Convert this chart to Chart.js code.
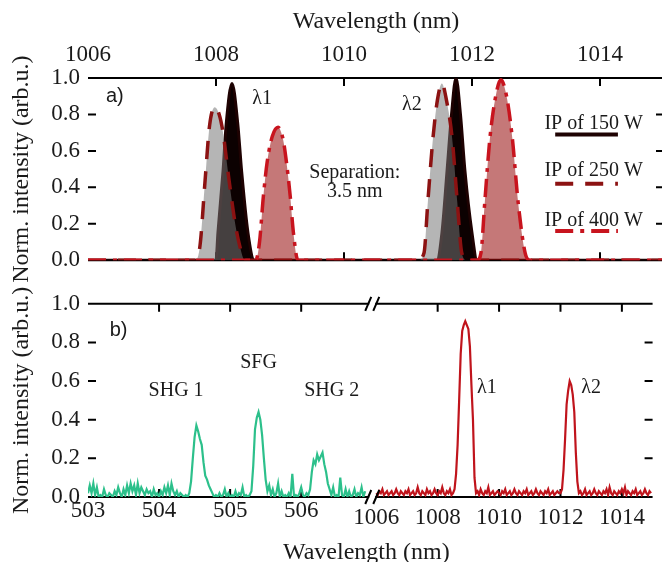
<!DOCTYPE html>
<html>
<head>
  <meta charset="utf-8">
  <title>Fundamental and SHG spectra</title>
  <script src="https://cdn.jsdelivr.net/npm/chart.js"></script>
  <style>
    html, body {
      margin: 0;
      padding: 0;
      background: #fff;
      overflow: hidden;
    }
    .panel { position: absolute; left: 0; }
    #topPanel { top: 0; }
    #bottomPanel { top: 282px; }
  </style>
</head>
<body>
  <!-- a) fundamental spectra at three pump powers -->
  <div class="panel" id="topPanel"><canvas id="fundChart" width="666" height="282"></canvas></div>
  <!-- b) SHG / SFG and fundamental, broken wavelength axis -->
  <div class="panel" id="bottomPanel"><canvas id="shgChart" width="666" height="280"></canvas></div>

  <script>
    // ---- data: panel a) ----
    const wlTicks = [1006, 1008, 1010, 1012, 1014];
    const yTicks = [0, 0.2, 0.4, 0.6, 0.8, 1.0];

    const ip150X = [1006, 1008.0, 1008.03, 1008.11, 1008.16, 1008.25, 1008.34, 1008.4, 1008.5, 1008.6,
                    1011.45, 1011.53, 1011.61, 1011.68, 1011.75, 1011.82, 1011.89, 1012.0, 1012.08, 1015];
    const ip150Y = [0, 0, 0.15, 0.49, 0.75, 0.97, 0.75, 0.49, 0.15, 0,
                    0, 0.15, 0.49, 0.8, 1.0, 0.8, 0.49, 0.15, 0, 0];

    const ip250X = [1006, 1007.68, 1007.75, 1007.83, 1007.9, 1007.98, 1008.05, 1008.11, 1008.2, 1008.3, 1008.37, 1008.45,
                    1011.15, 1011.25, 1011.31, 1011.39, 1011.46, 1011.53, 1011.6, 1011.69, 1011.77, 1011.84, 1011.92, 1015];
    const ip250Y = [0, 0, 0.08, 0.44, 0.74, 0.84, 0.8, 0.7, 0.45, 0.2, 0.08, 0,
                    0, 0.04, 0.32, 0.67, 0.88, 0.97, 0.88, 0.67, 0.32, 0.04, 0, 0];

    const ip400X = [1006, 1008.62, 1008.68, 1008.74, 1008.8, 1008.88, 1008.97, 1009.05, 1009.1, 1009.16, 1009.21, 1009.28,
                    1012.08, 1012.14, 1012.2, 1012.28, 1012.37, 1012.45, 1012.54, 1012.63, 1012.72, 1012.83, 1012.9, 1015];
    const ip400Y = [0, 0, 0.1, 0.35, 0.54, 0.68, 0.73, 0.66, 0.54, 0.35, 0.15, 0,
                    0, 0.04, 0.32, 0.67, 0.9, 0.99, 0.9, 0.67, 0.32, 0.04, 0, 0];

    // ---- data: panel b) ----
    const shgTicks = [503, 504, 505, 506];
    const fundTicks = [1006, 1008, 1010, 1012, 1014];

    // green trace, sampled every 0.025 nm from 503 nm
    const shgStart = 503.0;
    const shgStep = 0.025;
    const shgY = [
      0.02, 0.06, 0.02, 0.07, 0.01, 0.05, 0.00, 0.01, 0.00, 0.04, 0.01, 0.00, 0.02, 0.01, 0.00, 0.03, 0.01, 0.05, 0.02, 0.00,
      0.04, 0.01, 0.06, 0.02, 0.07, 0.03, 0.06, 0.01, 0.07, 0.02, 0.05, 0.03, 0.01, 0.04, 0.02, 0.03, 0.00, 0.04, 0.01, 0.02,
      0.00, 0.03, 0.01, 0.05, 0.02, 0.06, 0.01, 0.07, 0.03, 0.01, 0.03, 0.00, 0.02, 0.01, 0.00, 0.01, 0.00, 0.02, 0.08, 0.20,
      0.31, 0.37, 0.34, 0.30, 0.27, 0.18, 0.11, 0.09, 0.06, 0.04, 0.02, 0.00, 0.01, 0.00, 0.02, 0.00, 0.01, 0.04, 0.00, 0.02,
      0.00, 0.01, 0.00, 0.03, 0.00, 0.02, 0.01, 0.05, 0.00, 0.01, 0.00, 0.01, 0.03, 0.16, 0.35, 0.41, 0.44, 0.40, 0.32, 0.20,
      0.09, 0.03, 0.06, 0.01, 0.04, 0.00, 0.02, 0.07, 0.00, 0.03, 0.00, 0.01, 0.00, 0.02, 0.00, 0.12, 0.00, 0.01, 0.00, 0.02,
      0.05, 0.01, 0.00, 0.02, 0.01, 0.04, 0.13, 0.19, 0.17, 0.22, 0.19, 0.21, 0.23, 0.17, 0.13, 0.07, 0.04, 0.01, 0.05, 0.00,
      0.01, 0.00, 0.10, 0.01, 0.00, 0.04, 0.00, 0.03, 0.00, 0.01, 0.04, 0.00, 0.02, 0.01, 0.05, 0.00, 0.03
    ];

    // red trace, sampled every 0.05 nm from 1006 nm
    const fundStart = 1006.0;
    const fundStep = 0.05;
    const fundY = [
      0.02, 0.01, 0.03, 0.02, 0.04, 0.01, 0.02, 0.03, 0.01, 0.02, 0.03, 0.01, 0.02, 0.04, 0.02, 0.01, 0.03, 0.02, 0.01, 0.03,
      0.02, 0.04, 0.01, 0.02, 0.03, 0.01, 0.02, 0.05, 0.02, 0.01, 0.03, 0.02, 0.01, 0.04, 0.02, 0.03, 0.01, 0.02, 0.04, 0.02,
      0.01, 0.03, 0.02, 0.05, 0.02, 0.01, 0.03, 0.02, 0.04, 0.01, 0.02, 0.04, 0.12, 0.27, 0.50, 0.74, 0.86, 0.89, 0.91, 0.89,
      0.87, 0.78, 0.58, 0.40, 0.10, 0.02, 0.03, 0.01, 0.04, 0.02, 0.01, 0.03, 0.02, 0.05, 0.01, 0.02, 0.03, 0.01, 0.02, 0.03,
      0.02, 0.01, 0.03, 0.02, 0.04, 0.01, 0.02, 0.03, 0.01, 0.02, 0.04, 0.02, 0.01, 0.03, 0.02, 0.01, 0.03, 0.02, 0.04, 0.01,
      0.02, 0.03, 0.01, 0.02, 0.04, 0.02, 0.01, 0.03, 0.02, 0.01, 0.03, 0.02, 0.04, 0.01, 0.02, 0.03, 0.01, 0.02, 0.03, 0.02,
      0.02, 0.04, 0.14, 0.30, 0.48, 0.55, 0.60, 0.58, 0.53, 0.44, 0.23, 0.08, 0.02, 0.03, 0.01, 0.02, 0.04, 0.01, 0.02, 0.03,
      0.01, 0.02, 0.04, 0.02, 0.01, 0.03, 0.02, 0.01, 0.03, 0.02, 0.04, 0.01, 0.05, 0.02, 0.01, 0.03, 0.02, 0.01, 0.03, 0.02,
      0.04, 0.02, 0.05, 0.01, 0.03, 0.02, 0.01, 0.03, 0.02, 0.04, 0.01, 0.02, 0.03, 0.01, 0.02, 0.04, 0.02, 0.01, 0.03, 0.02
    ];

    const serif = "'Liberation Serif', 'Times New Roman', serif";
    const sans = "'Liberation Sans', Arial, sans-serif";
    Chart.defaults.font.family = serif;
    Chart.defaults.color = '#1a1a1a';
    Chart.defaults.animation = false;

    const TICK = 8;
    const tickFont = { family: serif, size: 23 };
    const titleFont = { family: serif, size: 24 };

    const pairs = (xs, ys) => xs.map((x, i) => ({ x: x, y: ys[i] }));
    const sampled = (start, step, ys) => ys.map((y, i) => ({ x: +(start + i * step).toFixed(3), y: y }));
    const setTicks = list => axis => { axis.ticks = list.map(v => ({ value: v })); };

    // frame: top/bottom lines, inward ticks, axis break
    const framePlugin = {
      id: 'frame',
      beforeDatasetsDraw(chart) {
        const { ctx, chartArea: a, scales } = chart;
        ctx.save();
        ctx.strokeStyle = '#000';
        ctx.lineWidth = 2;
        ctx.beginPath();
        ctx.moveTo(a.left, a.top); ctx.lineTo(a.right, a.top);
        ctx.moveTo(a.left, a.bottom); ctx.lineTo(a.right, a.bottom);
        Object.values(scales).filter(s => s.axis === 'x').forEach(s => {
          s.ticks.forEach(t => {
            const px = s.getPixelForValue(t.value);
            if (px - s.left < 6 || s.right - px < 6) return;
            ctx.moveTo(px, a.top); ctx.lineTo(px, a.top + TICK);
            ctx.moveTo(px, a.bottom); ctx.lineTo(px, a.bottom - TICK);
          });
        });
        const y = scales.y;
        y.ticks.forEach(t => {
          if (t.value <= 0 || t.value >= 1) return;
          const py = y.getPixelForValue(t.value);
          ctx.moveTo(a.left, py); ctx.lineTo(a.left + TICK, py);
          ctx.moveTo(a.right - TICK, py); ctx.lineTo(a.right, py);
        });
        ctx.stroke();
        ctx.restore();
      },
      afterDatasetsDraw(chart, args, opts) {
        if (!opts.breakAfter) return;
        const { ctx, chartArea: a, scales } = chart;
        const bx = scales[opts.breakAfter].right;
        ctx.save();
        [a.top, a.bottom].forEach(by => {
          ctx.fillStyle = '#fff';
          ctx.fillRect(bx - 3, by - 4, 6, 8);
          ctx.strokeStyle = '#000';
          ctx.lineWidth = 2;
          ctx.beginPath();
          ctx.moveTo(bx - 7, by + 7); ctx.lineTo(bx - 1, by - 7);
          ctx.moveTo(bx + 1, by + 7); ctx.lineTo(bx + 7, by - 7);
          ctx.stroke();
        });
        ctx.restore();
      }
    };

    // text notes placed in data coordinates, plus the line-sample legend
    const notesPlugin = {
      id: 'notes',
      afterDatasetsDraw(chart, args, opts) {
        const { ctx, scales } = chart;
        ctx.save();
        ctx.textAlign = 'center';
        ctx.textBaseline = 'middle';
        ctx.fillStyle = '#1a1a1a';
        (opts.items || []).forEach(n => {
          const xs = scales[n.axis || 'x'];
          ctx.font = n.font || ('20px ' + serif);
          ctx.fillText(n.text, xs.getPixelForValue(n.x), scales.y.getPixelForValue(n.y));
        });
        (opts.legend || []).forEach(l => {
          const ds = chart.data.datasets[l.dataset];
          const xs = scales.x;
          ctx.font = '20px ' + serif;
          ctx.fillStyle = '#1a1a1a';
          ctx.fillText(ds.label, xs.getPixelForValue(l.x), scales.y.getPixelForValue(l.y));
          ctx.strokeStyle = ds.borderColor;
          ctx.lineWidth = 4;
          ctx.setLineDash(ds.borderDash || []);
          ctx.beginPath();
          ctx.moveTo(xs.getPixelForValue(l.x0), scales.y.getPixelForValue(l.yl));
          ctx.lineTo(xs.getPixelForValue(l.x1), scales.y.getPixelForValue(l.yl));
          ctx.stroke();
          ctx.setLineDash([]);
        });
        if (opts.bottomTitle) {
          ctx.font = '24px ' + serif;
          ctx.fillStyle = '#1a1a1a';
          ctx.fillText(opts.bottomTitle, (chart.chartArea.left + chart.chartArea.right) / 2 - 4, chart.height - 9);
        }
        ctx.restore();
      }
    };

    function yAxis() {
      return {
        min: 0,
        max: 1,
        afterBuildTicks: setTicks(yTicks),
        afterFit: s => { s.width = 88; },
        grid: { display: false, drawTicks: false },
        border: { display: false },
        ticks: { font: tickFont, padding: 8, callback: v => v.toFixed(1) },
        title: { display: true, text: 'Norm. intensity (arb.u.)', font: titleFont, padding: { top: 7, bottom: 0 } }
      };
    }

    // ---- panel a) ----
    new Chart(document.getElementById('fundChart').getContext('2d'), {
      type: 'line',
      data: {
        datasets: [
          {
            label: 'IP of 150 W',
            data: pairs(ip150X, ip150Y),
            borderColor: '#1e0202',
            backgroundColor: '#0c0101',
            borderWidth: 3,
            fill: 'origin',
            order: 3
          },
          {
            label: 'IP of 250 W',
            data: pairs(ip250X, ip250Y),
            borderColor: '#8c1212',
            backgroundColor: 'rgba(118, 118, 118, 0.54)',
            borderWidth: 3.5,
            borderDash: [18, 12],
            fill: 'origin',
            order: 2
          },
          {
            label: 'IP of 400 W',
            data: pairs(ip400X, ip400Y),
            borderColor: '#c8141e',
            backgroundColor: 'rgba(150, 10, 10, 0.55)',
            borderWidth: 3.5,
            borderDash: [18, 7, 4, 7],
            fill: 'origin',
            order: 1
          }
        ]
      },
      options: {
        responsive: false,
        layout: { padding: { top: 0, right: 2, bottom: 12, left: 0 } },
        elements: { point: { radius: 0 }, line: { cubicInterpolationMode: 'monotone' } },
        scales: {
          x: {
            type: 'linear',
            position: 'top',
            min: 1006,
            max: 1015,
            afterBuildTicks: setTicks(wlTicks),
            afterFit: s => { s.height = 78; },
            grid: { display: false, drawTicks: false },
            border: { display: false },
            ticks: { font: tickFont, padding: 9, maxRotation: 0, autoSkip: false, callback: v => String(v) },
            title: { display: true, text: 'Wavelength (nm)', font: titleFont, padding: { top: 7, bottom: 0 } }
          },
          y: yAxis()
        },
        plugins: {
          legend: { display: false },
          tooltip: { enabled: false },
          notes: {
            items: [
              { text: 'a)', x: 1006.42, y: 0.9, font: '20px ' + sans },
              { text: '\u03bb1', x: 1008.72, y: 0.885 },
              { text: '\u03bb2', x: 1011.06, y: 0.855 },
              { text: 'Separation:', x: 1010.17, y: 0.48 },
              { text: '3.5 nm', x: 1010.17, y: 0.375 }
            ],
            legend: [
              { dataset: 0, x: 1013.9, y: 0.75, x0: 1013.3, x1: 1014.28, yl: 0.69 },
              { dataset: 1, x: 1013.9, y: 0.49, x0: 1013.3, x1: 1014.28, yl: 0.42 },
              { dataset: 2, x: 1013.9, y: 0.215, x0: 1013.3, x1: 1014.28, yl: 0.16 }
            ]
          }
        }
      },
      plugins: [framePlugin, notesPlugin]
    });

    // ---- panel b) ----
    new Chart(document.getElementById('shgChart').getContext('2d'), {
      type: 'line',
      data: {
        datasets: [
          {
            label: 'SHG / SFG',
            data: sampled(shgStart, shgStep, shgY),
            xAxisID: 'xs',
            borderColor: '#2cc08b',
            borderWidth: 2.2,
            fill: false
          },
          {
            label: 'Fundamental',
            data: sampled(fundStart, fundStep, fundY),
            xAxisID: 'xf',
            borderColor: '#c0141c',
            borderWidth: 2.2,
            fill: false
          }
        ]
      },
      options: {
        responsive: false,
        layout: { padding: { top: 21, right: 2, bottom: 0, left: 0 } },
        elements: { point: { radius: 0 }, line: { tension: 0 } },
        scales: {
          xs: {
            type: 'linear',
            position: 'bottom',
            stack: 'wl',
            stackWeight: 290,
            min: 503,
            max: 507,
            afterBuildTicks: setTicks(shgTicks),
            afterFit: s => { s.height = 65; },
            grid: { display: false, drawTicks: false },
            border: { display: false },
            ticks: { font: tickFont, padding: 0, maxRotation: 0, autoSkip: false, callback: v => String(v) }
          },
          xf: {
            type: 'linear',
            position: 'bottom',
            stack: 'wl',
            stackWeight: 286,
            min: 1005.87,
            max: 1015,
            afterBuildTicks: setTicks(fundTicks),
            afterFit: s => { s.height = 65; },
            grid: { display: false, drawTicks: false },
            border: { display: false },
            ticks: { font: tickFont, padding: 7, maxRotation: 0, autoSkip: false, callback: v => String(v) }
          },
          y: yAxis()
        },
        plugins: {
          legend: { display: false },
          tooltip: { enabled: false },
          frame: { breakAfter: 'xs' },
          notes: {
            items: [
              { text: 'b)', x: 503.43, y: 0.86, axis: 'xs', font: '20px ' + sans },
              { text: 'SHG 1', x: 504.24, y: 0.55, axis: 'xs' },
              { text: 'SFG', x: 505.4, y: 0.696, axis: 'xs' },
              { text: 'SHG 2', x: 506.43, y: 0.55, axis: 'xs' },
              { text: '\u03bb1', x: 1009.6, y: 0.567, axis: 'xf' },
              { text: '\u03bb2', x: 1013.0, y: 0.567, axis: 'xf' }
            ],
            bottomTitle: 'Wavelength (nm)'
          }
        }
      },
      plugins: [framePlugin, notesPlugin]
    });
  </script>
</body>
</html>
